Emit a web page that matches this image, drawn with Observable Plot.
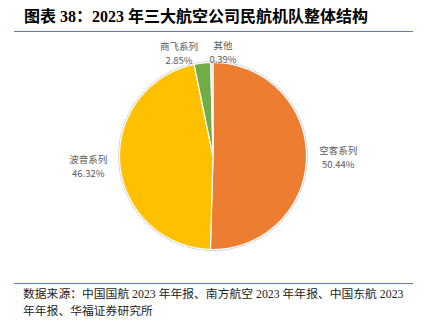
<!DOCTYPE html>
<html>
<head>
<meta charset="utf-8">
<script src="https://cdn.jsdelivr.net/npm/d3@7"></script>
<script src="https://cdn.jsdelivr.net/npm/@observablehq/plot@0.6"></script>
<style>
  html, body { margin: 0; padding: 0; background: #fff; }
  #wrap { position: relative; width: 423px; height: 322px; overflow: hidden; }
  #title {
    position: absolute; left: 14px; top: 0; width: 399px; height: 32px;
    border-bottom: 1.5px solid #5B7DB8; box-sizing: border-box;
    font-family: "Liberation Serif", "Noto Sans CJK SC", serif;
    font-weight: bold; font-size: 16px; line-height: 34px; color: #000;
    padding-left: 10px; white-space: nowrap;
  }
  #chart { position: absolute; left: 0; top: 36px; }
  #foot {
    position: absolute; left: 14px; top: 283px; width: 399px;
    border-top: 1.5px solid #5B7DB8; box-sizing: border-box;
    font-family: "Liberation Serif", "Noto Sans CJK SC", serif;
    font-size: 11.8px; line-height: 17px; color: #222;
    padding-left: 9px; padding-top: 2px; white-space: nowrap;
  }
</style>
</head>
<body>
<div id="wrap">
  <div id="title">图表 38：2023 年三大航空公司民航机队整体结构</div>
  <div id="chart"></div>
  <div id="foot">数据来源：中国国航 2023 年年报、南方航空 2023 年年报、中国东航 2023<br>年年报、华福证券研究所</div>
</div>
<script>
// ---- data ----
const names = ["空客系列", "波音系列", "商飞系列", "其他"];
const shares = [50.44, 46.32, 2.85, 0.39];
const shareLabels = ["50.44%", "46.32%", "2.85%", "0.39%"];
const colors = ["#ED7D31", "#FFC000", "#70AD47", "#D6D6D6"];

// ---- layout (pixel units) ----
const W = 423, H = 244;
const R = 93.5;
const cx = 212.5, cy = 119.5;

const arcs = d3.pie().sort(null).value(d => d)(shares);

function arcPoints(a0, a1, r) {
  const n = Math.max(2, Math.ceil((a1 - a0) / (Math.PI / 360)));
  const pts = [];
  for (let i = 0; i <= n; i++) {
    const a = a0 + (a1 - a0) * i / n;
    pts.push([r * Math.sin(a), r * Math.cos(a)]);
  }
  return pts;
}

const slicePts = [];
arcs.forEach((a, i) => {
  slicePts.push({name: names[i], x: 0, y: 0});
  for (const [x, y] of arcPoints(a.startAngle, a.endAngle, R)) slicePts.push({name: names[i], x, y});
});

const ring = arcPoints(0, 2 * Math.PI, R + 0.8).map(([x, y]) => ({x, y}));

// label placement: radial for big slices, spread for the small ones at top
const labelFactor = [1.34, 1.34, 1.1, 1.1];
const labelShift = [0, 0, -22, 22];
const labels = arcs.map((a, i) => {
  const m = (a.startAngle + a.endAngle) / 2;
  const k = labelFactor[i] * R;
  let x = k * Math.sin(m), y = k * Math.cos(m);
  if (labelShift[i]) x = labelShift[i] - 12;
  return {x, y, name: names[i], pct: shareLabels[i]};
});

const font = "'Noto Sans CJK SC', sans-serif";
const chart = Plot.plot({
  width: W, height: H,
  margin: 0,
  x: {domain: [-cx, W - cx], axis: null},
  y: {domain: [-(H - cy), cy], axis: null},
  color: {domain: names, range: colors},
  marks: [
    Plot.line(ring, {x: "x", y: "y", stroke: "#cfcfcf", strokeWidth: 1.2, curve: "linear-closed"}),
    Plot.line(slicePts, {x: "x", y: "y", z: "name", fill: "name", stroke: "white", strokeWidth: 1.2, curve: "linear-closed"}),
    Plot.text(labels, {x: "x", y: "y", text: "name", dy: -7, fill: "#595959", fontSize: 9.5, fontFamily: font}),
    Plot.text(labels, {x: "x", y: "y", text: "pct", dy: 7, fill: "#595959", fontSize: 9.5, fontFamily: font})
  ]
});
document.getElementById("chart").appendChild(chart);
</script>
</body>
</html>
